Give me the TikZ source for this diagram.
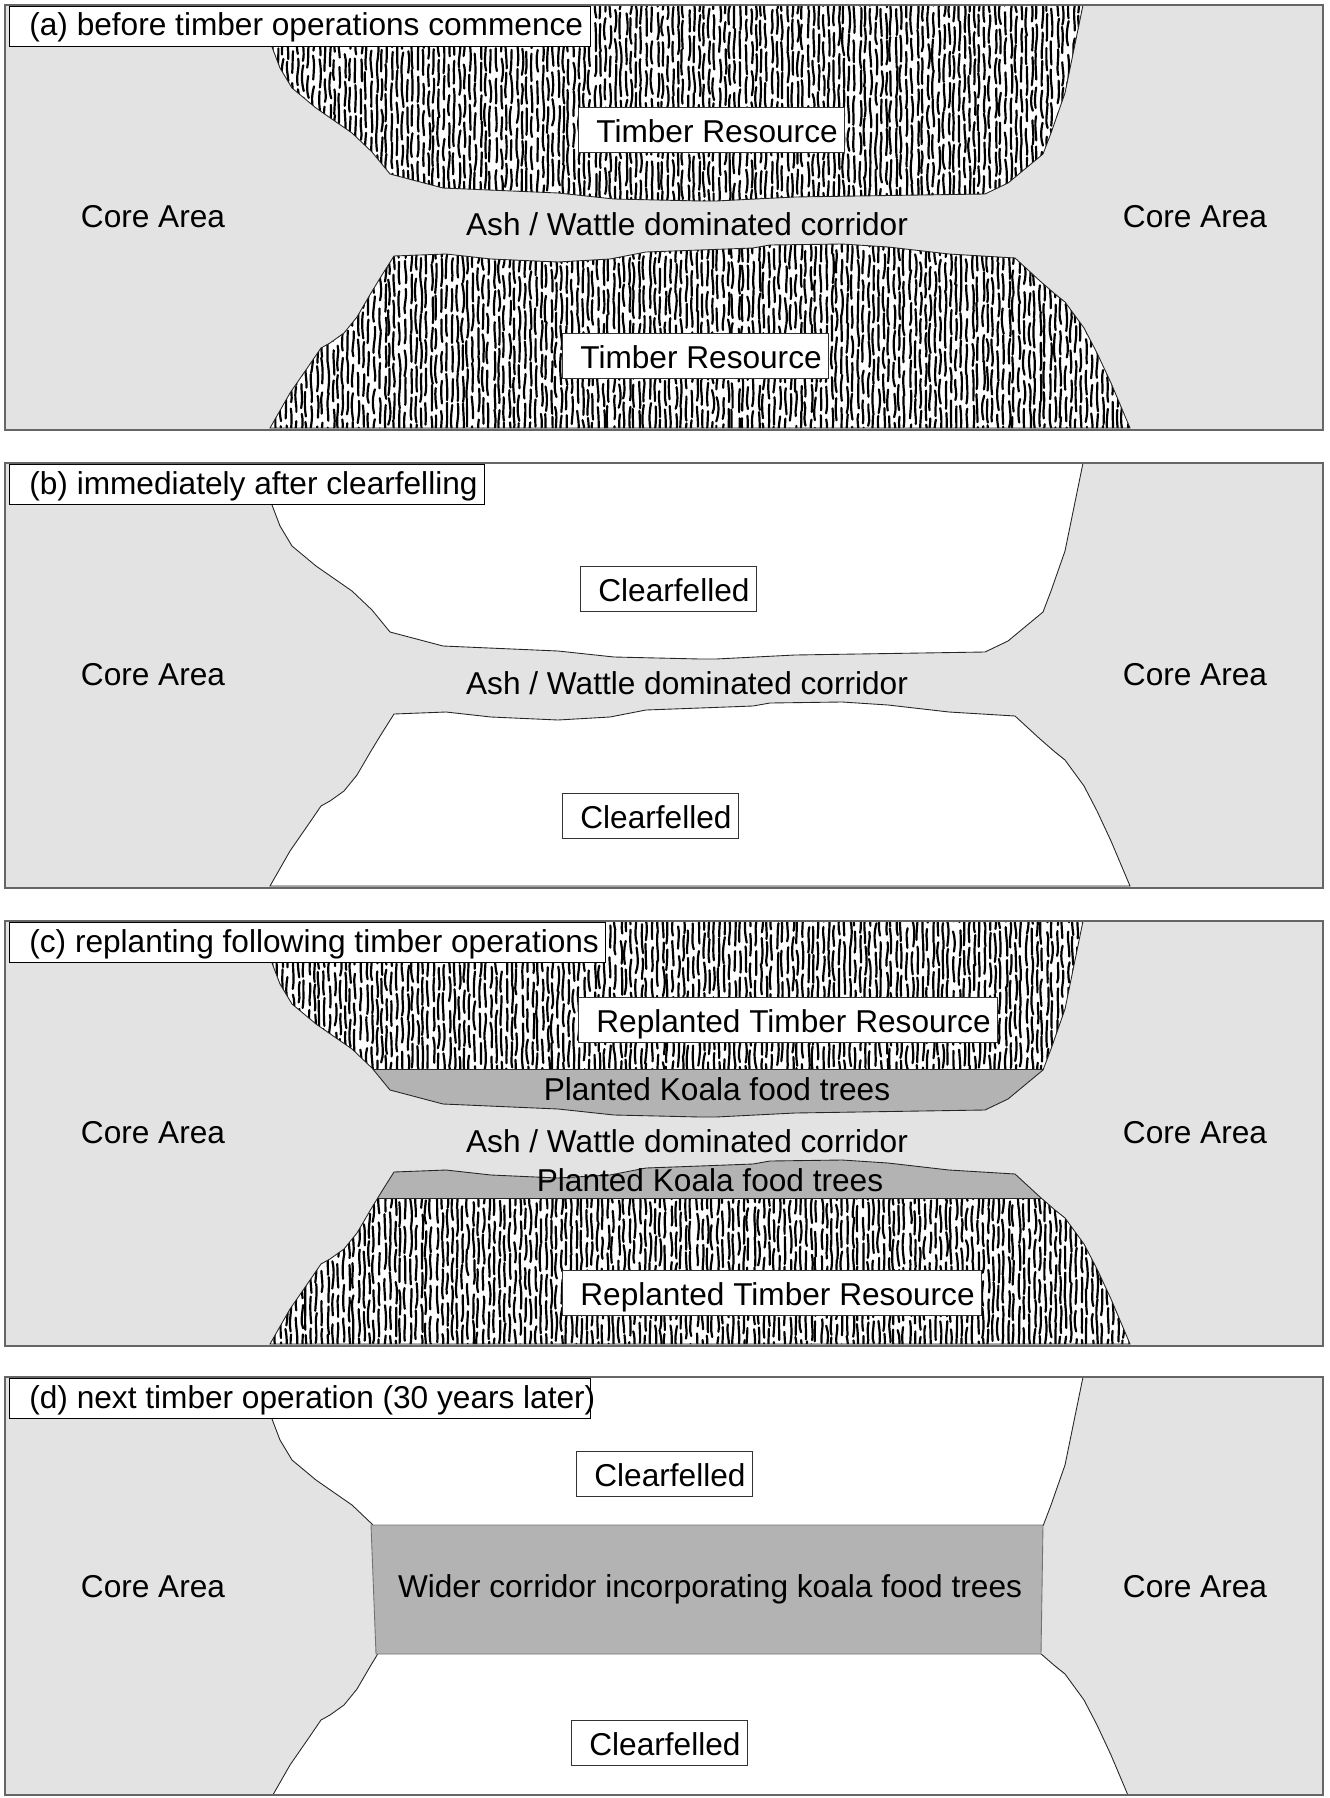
\documentclass[tikz,border=0pt]{standalone}
\usepackage{fontspec}
\setmainfont{Liberation Sans}
\definecolor{coregray}{HTML}{E3E3E3}
\definecolor{koalagray}{HTML}{B3B3B3}
\newcommand\lblfont{\fontsize{18}{21}\selectfont}
\def\Tpath{(268,5) -- (272,47) -- (280,68) -- (292,88) -- (316,108) -- (352,133) -- (372,152) -- (390,174) -- (443,188) -- (558,193) -- (614,199) -- (700,201) -- (716,201) -- (795,197) -- (985,194) -- (1008,183) -- (1043,154) -- (1051,133) -- (1065,93) -- (1083,5) -- cycle}
\def\Bpath{(394,256) -- (446,254) -- (491,259) -- (558,262) -- (610,259) -- (646,252) -- (700,250) -- (753,248) -- (770,245) -- (842,244) -- (888,247) -- (949,254) -- (1015,258) -- (1040,281) -- (1055,294) -- (1065,302) -- (1084,328) -- (1097,353) -- (1111,383) -- (1130,428) -- (270,428) -- (290,393) -- (308,367) -- (321,348) -- (330,343) -- (344,333) -- (357,317) -- (371,293) -- (382,275) -- cycle}
\newcommand\grain[4]{%
  \foreach \ci in {0,...,#2}{%
    \pgfmathsetmacro\gx{#1+5.2*\ci+1.0*rand}%
    \pgfmathsetmacro\gy{#3+30*rnd}%
    \draw[grainln] foreach \ri in {0,...,#4}{%
      (\gx+0.8*rand,\gy+30*\ri+3*rand) .. controls (\gx+2.2*rand,\gy+30*\ri+9) and (\gx+2.2*rand,\gy+30*\ri+17) .. (\gx+0.8*rand,\gy+30*\ri+25+3*rand)
    };
  }%
}
\tikzset{
  grainln/.style={black, line width=1.25pt, line cap=round},
  outl/.style={draw=black!85, line width=0.5pt},
  frm/.style={draw=black!60, line width=1pt},
  bandln/.style={draw=black!55, line width=0.5pt},
  plain/.style={font=\lblfont, inner sep=0pt, anchor=base},
  lblbox/.style={draw=black!80, line width=0.5pt, fill=white, font=\lblfont,
    text height=14.1pt, text depth=0pt, inner ysep=5.7pt, inner xsep=0pt, anchor=base west},
  titlebox/.style={draw=black, line width=0.6pt, fill=white, font=\lblfont,
    text height=11pt, text depth=0pt, inner ysep=6pt, inner xsep=0pt, anchor=base west},
}
\newcommand\lb[1]{\hspace*{10.2pt}#1\hspace*{4pt}}
\newcommand\tl[1]{\hspace*{11.3pt}#1\hspace*{4pt}}
\begin{document}
\begin{tikzpicture}[x=0.02cm, y=-0.02cm]
\pgfmathsetseed{4242}
\useasboundingbox (0,0) rectangle (1329,1798);
\fill[white] (0,0) rectangle (1329,1798);

% ---------------- panel (a)
\begin{scope}
  \fill[coregray] (5,5) rectangle (1323,430);
  \begin{scope}
    \clip (5,5) rectangle (1323,430);
    \fill[white] \Tpath;
    \begin{scope}\clip \Tpath; \grain{262}{160}{-20}{8}\end{scope}
    \draw[outl] \Tpath;
    \fill[white] \Bpath;
    \begin{scope}\clip \Bpath; \grain{265}{168}{220}{8}\end{scope}
    \draw[outl] \Bpath;
  \end{scope}
  \draw[frm] (5,5) rectangle (1323,430);
  \node[titlebox] (a-title) at (9,36) {\tl{(a) before timber operations commence}};
  \node[lblbox] (a-tr1) at (578,142) {\lb{Timber Resource}};
  \node[lblbox] (a-tr2) at (562,368) {\lb{Timber Resource}};
  \node[plain] (a-coreL) at (153,227) {Core Area};
  \node[plain] (a-coreR) at (1195,227) {Core Area};
  \node[plain] (a-corr) at (687,235) {Ash / Wattle dominated corridor};
\end{scope}

% ---------------- panel (b)
\begin{scope}[shift={(0,458)}]
  \fill[coregray] (5,5) rectangle (1323,430);
  \begin{scope}
    \clip (5,5) rectangle (1323,430);
    \fill[white] \Tpath; \draw[outl] \Tpath;
    \fill[white] \Bpath; \draw[outl] \Bpath;
  \end{scope}
  \draw[frm] (5,5) rectangle (1323,430);
  \node[titlebox] (b-title) at (9,36) {\tl{(b) immediately after clearfelling}};
  \node[lblbox] (b-cf1) at (580,143) {\lb{Clearfelled}};
  \node[lblbox] (b-cf2) at (562,370) {\lb{Clearfelled}};
  \node[plain] (b-coreL) at (153,227) {Core Area};
  \node[plain] (b-coreR) at (1195,227) {Core Area};
  \node[plain] (b-corr) at (687,236) {Ash / Wattle dominated corridor};
\end{scope}

% ---------------- panel (c)
\begin{scope}[shift={(0,916)}]
  \fill[coregray] (5,5) rectangle (1323,430);
  \begin{scope}
    \clip (5,5) rectangle (1323,430);
    \fill[white] \Tpath;
    \begin{scope}\clip \Tpath; \clip (0,0) rectangle (1329,153); \grain{262}{160}{-20}{6}\end{scope}
    \begin{scope}\clip \Tpath; \fill[koalagray] (0,153) rectangle (1329,215); \draw[outl] (0,153) -- (1329,153);\end{scope}
    \draw[outl] \Tpath;
    \fill[white] \Bpath;
    \begin{scope}\clip \Bpath; \clip (0,282) rectangle (1329,440); \grain{265}{168}{255}{6}\end{scope}
    \begin{scope}\clip \Bpath; \fill[koalagray] (0,235) rectangle (1329,282); \draw[outl] (0,282) -- (1329,282);\end{scope}
    \draw[outl] \Bpath;
  \end{scope}
  \draw[frm] (5,5) rectangle (1323,430);
  \node[titlebox] (c-title) at (9,36) {\tl{(c) replanting following timber operations}};
  \node[lblbox] (c-rt1) at (578,116) {\lb{Replanted Timber Resource}};
  \node[plain] (c-kf1) at (717,184) {Planted Koala food trees};
  \node[plain] (c-corr) at (687,236) {Ash / Wattle dominated corridor};
  \node[plain] (c-kf2) at (710,275) {Planted Koala food trees};
  \node[lblbox] (c-rt2) at (562,389) {\lb{Replanted Timber Resource}};
  \node[plain] (c-coreL) at (153,227) {Core Area};
  \node[plain] (c-coreR) at (1195,227) {Core Area};
\end{scope}

% ---------------- panel (d)
\begin{scope}[shift={(0,1372)}]
  \fill[coregray] (5,5) rectangle (1323,423);
  \begin{scope}
    \clip (5,5) rectangle (1323,423);
    \begin{scope}\clip (0,0) rectangle (1329,153); \fill[white] \Tpath; \draw[outl] \Tpath;\end{scope}
    \begin{scope}\clip (0,282) rectangle (1329,440); \fill[white] \Bpath; \draw[outl] \Bpath;\end{scope}
    \draw[bandln, fill=koalagray] (371,153) -- (1043,153) -- (1041,282) -- (376,282) -- cycle;
  \end{scope}
  \draw[frm] (5,5) rectangle (1323,423);
  \node[titlebox] (d-title) at (9,36) {\makebox[330.5pt][l]{\hspace*{11.3pt}(d) next timber operation (30 years later)}};
  \node[lblbox] (d-cf1) at (576,114) {\lb{Clearfelled}};
  \node[plain] (d-wide) at (710,225) {Wider corridor incorporating koala food trees};
  \node[lblbox] (d-cf2) at (571,383) {\lb{Clearfelled}};
  \node[plain] (d-coreL) at (153,225) {Core Area};
  \node[plain] (d-coreR) at (1195,225) {Core Area};
\end{scope}
\end{tikzpicture}
\end{document}
